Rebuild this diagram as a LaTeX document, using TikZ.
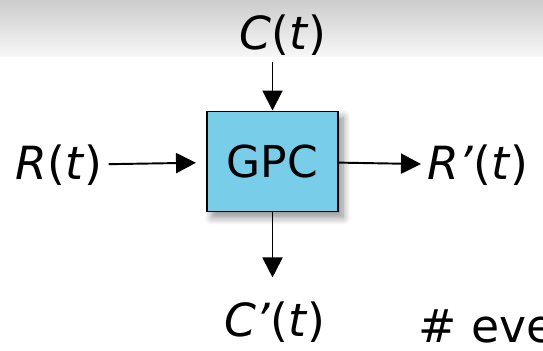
\documentclass[tikz,border=0pt]{standalone}
\usepackage{fontspec}
\setmainfont{DejaVu Sans}
\definecolor{gpcblue}{RGB}{120,205,232}
\usepackage{tikz}
\usetikzlibrary{
  arrows.meta,
  positioning,
  shadows.blur
}
% signal label: italic letters, upright brackets
\newcommand{\sig}[2]{\textit{#1}(\textit{#2})}

\begin{document}
\begin{tikzpicture}[
  box/.style={rectangle, draw=black, line width=1.1pt, fill=gpcblue, minimum width=2.62cm, minimum height=2.0cm, font=\fontsize{25}{30}\selectfont, text centered, blur shadow={shadow xshift=0.1cm, shadow yshift=-0.12cm, shadow blur steps=10, shadow blur radius=0.15cm, shadow opacity=45}},
  arr/.style={-{Triangle[length=0.4cm, width=0.4cm]}, line width=1.1pt, black},
  lbl/.style={font=\fontsize{26}{31}\selectfont}
]
  \useasboundingbox (0,0) rectangle (10.86,7.02);
  % header band
  \shade[top color=black!20, bottom color=black!3] (0,5.88) rectangle (10.86,7.02);

  \node[box] (gpc) at (5.45,3.79) {GPC};
  \node[lbl] (ct) at (5.66,6.32) {\sig{C}{t}};
  \node[lbl] (rt) at (1.18,3.72) {\sig{R}{t}};
  \node[lbl] (rpt) at (9.56,3.72) {\sig{R’}{t}};
  \node[lbl] (cpt) at (5.50,0.58) {\sig{C’}{t}};
  \node[font=\fontsize{26}{31}\selectfont, anchor=base west, inner sep=0pt] (ev) at (8.36,0.16) {\# eve};

  \draw[arr] (gpc.north |- ct.south) -- (gpc);
  \draw[arr, shorten >=0.2cm] (rt) -- (gpc);
  \draw[arr] (gpc) -- (rpt);
  \draw[arr, shorten >=0.36cm] (gpc) -- (gpc.south |- cpt.north);
\end{tikzpicture}
\end{document}
